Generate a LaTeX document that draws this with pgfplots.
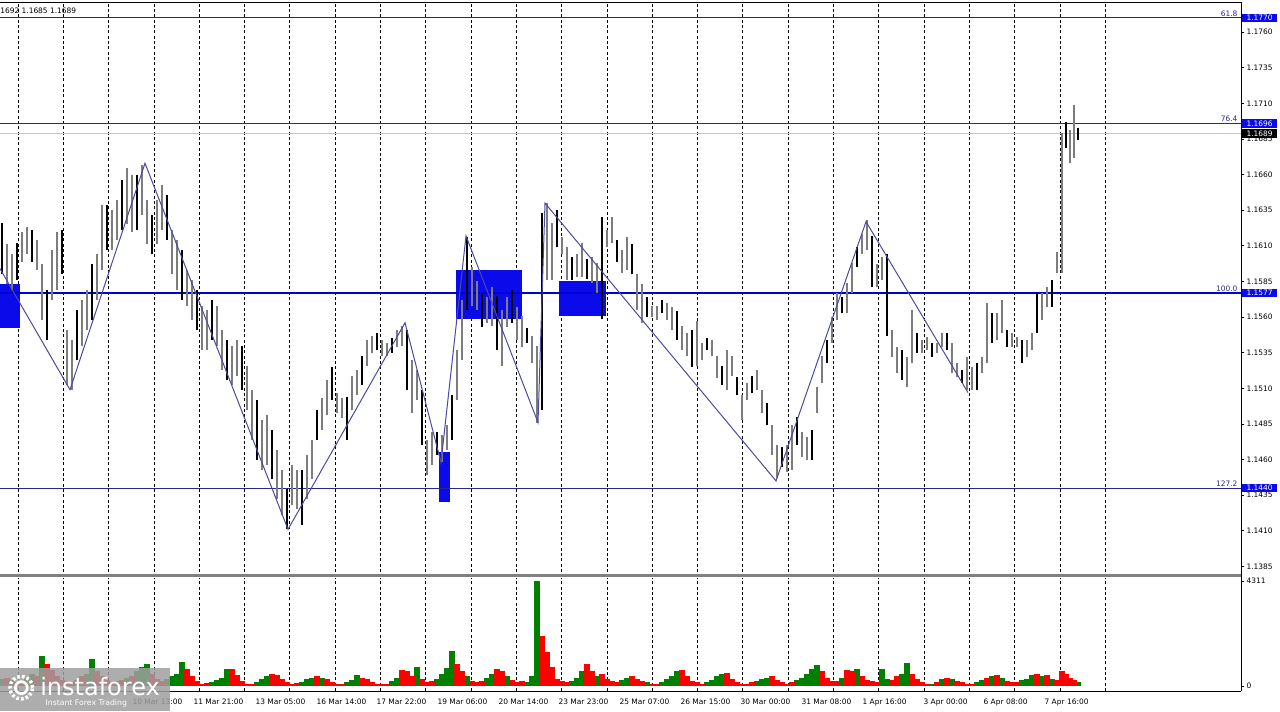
\documentclass[border=0pt]{standalone}
\usepackage{pgfplots}
\usepackage{pgfplotstable}
\pgfplotsset{compat=1.18}
\usepackage{fontspec}
\setmainfont{DejaVu Sans}

\definecolor{lvl}{RGB}{40,40,140}
\definecolor{lvlb}{RGB}{0,0,210}
\definecolor{boxb}{RGB}{10,10,235}
\definecolor{zz}{RGB}{75,75,160}
\definecolor{vg}{RGB}{0,128,0}
\definecolor{vr}{RGB}{255,0,0}
\definecolor{bargray}{RGB}{125,125,125}
\newcommand\lbl{\fontsize{5.6}{6.5}\selectfont}

% hourly bars (x = position along the time axis, low, high)
\pgfplotstableread{
x lo hi
2 1.1590 1.1626
7 1.1583 1.1611
12 1.1579 1.1604
17 1.1586 1.1612
22 1.1599 1.1620
27 1.1604 1.1623
32 1.1599 1.1621
37 1.1593 1.1614
42 1.1558 1.1597
47 1.1544 1.1579
52 1.1572 1.1607
57 1.1579 1.1620
62 1.1590 1.1621
67 1.1512 1.1551
72 1.1509 1.1544
77 1.1530 1.1565
82 1.1540 1.1572
87 1.1551 1.1579
92 1.1558 1.1597
97 1.1572 1.1604
102 1.1593 1.1639
107 1.1607 1.1639
112 1.1607 1.1635
117 1.1614 1.1642
122 1.1621 1.1656
127 1.1625 1.1665
132 1.1620 1.1660
137 1.1621 1.1660
142 1.1632 1.1667
147 1.1611 1.1642
152 1.1604 1.1632
157 1.1611 1.1642
162 1.1621 1.1653
167 1.1614 1.1646
172 1.1590 1.1621
177 1.1579 1.1614
182 1.1572 1.1607
187 1.1568 1.1593
192 1.1558 1.1586
197 1.1551 1.1579
202 1.1537 1.1568
207 1.1537 1.1565
212 1.1544 1.1572
217 1.1540 1.1568
222 1.1523 1.1551
227 1.1516 1.1544
232 1.1512 1.1540
237 1.1519 1.1544
242 1.1509 1.1540
247 1.1495 1.1526
252 1.1474 1.1509
257 1.1460 1.1502
262 1.1453 1.1488
267 1.1456 1.1491
272 1.1446 1.1481
277 1.1432 1.1467
282 1.1421 1.1453
287 1.1411 1.1439
292 1.1428 1.1456
297 1.1425 1.1453
302 1.1414 1.1453
307 1.1432 1.1463
312 1.1446 1.1474
317 1.1474 1.1495
322 1.1481 1.1503
327 1.1491 1.1516
332 1.1502 1.1525
337 1.1493 1.1507
342 1.1489 1.1503
347 1.1474 1.1504
352 1.1495 1.1519
357 1.1505 1.1523
362 1.1512 1.1533
367 1.1526 1.1544
372 1.1535 1.1547
377 1.1537 1.1549
382 1.1533 1.1544
387 1.1533 1.1542
392 1.1535 1.1545
397 1.1539 1.1551
402 1.1540 1.1554
407 1.1509 1.1551
412 1.1493 1.1530
417 1.1502 1.1523
422 1.1470 1.1509
427 1.1449 1.1474
432 1.1456 1.1479
437 1.1463 1.1479
442 1.1458 1.1477
447 1.1467 1.1484
452 1.1474 1.1505
457 1.1502 1.1537
462 1.1530 1.1572
467 1.1565 1.1616
472 1.1568 1.1595
477 1.1565 1.1585
482 1.1553 1.1577
487 1.1556 1.1574
492 1.1554 1.1581
497 1.1537 1.1575
502 1.1526 1.1565
507 1.1553 1.1574
512 1.1556 1.1579
517 1.1544 1.1567
522 1.1539 1.1561
527 1.1542 1.1552
532 1.1528 1.1547
537 1.1486 1.1540
542 1.1495 1.1633
547 1.1586 1.1640
552 1.1586 1.1626
557 1.1609 1.1635
562 1.1604 1.1616
567 1.1586 1.1609
572 1.1586 1.1602
577 1.1588 1.1604
582 1.1588 1.1612
587 1.1587 1.1601
592 1.1584 1.1602
597 1.1577 1.1598
602 1.1559 1.1630
607 1.1609 1.1621
612 1.1612 1.1630
617 1.1599 1.1614
622 1.1591 1.1607
627 1.1593 1.1616
632 1.1590 1.1611
637 1.1565 1.1590
642 1.1556 1.1583
647 1.1560 1.1574
652 1.1560 1.1568
657 1.1558 1.1568
662 1.1563 1.1572
667 1.1558 1.1570
672 1.1551 1.1567
677 1.1544 1.1564
682 1.1537 1.1554
687 1.1533 1.1549
692 1.1525 1.1551
697 1.1526 1.1557
702 1.1530 1.1542
707 1.1537 1.1545
712 1.1533 1.1544
717 1.1517 1.1533
722 1.1512 1.1526
727 1.1509 1.1537
732 1.1519 1.1533
737 1.1505 1.1518
742 1.1488 1.1505
747 1.1502 1.1514
752 1.1507 1.1519
757 1.1509 1.1523
762 1.1493 1.1509
767 1.1484 1.1500
772 1.1463 1.1484
777 1.1447 1.1470
782 1.1455 1.1469
787 1.1451 1.1470
792 1.1453 1.1484
797 1.1470 1.1490
802 1.1462 1.1479
807 1.1460 1.1476
812 1.1460 1.1481
817 1.1493 1.1511
822 1.1514 1.1533
827 1.1528 1.1544
832 1.1542 1.1560
837 1.1558 1.1577
842 1.1563 1.1574
847 1.1563 1.1584
852 1.1577 1.1598
857 1.1595 1.1609
862 1.1604 1.1618
867 1.1607 1.1628
872 1.1581 1.1617
877 1.1581 1.1597
882 1.1586 1.1602
887 1.1547 1.1604
892 1.1532 1.1551
897 1.1521 1.1539
902 1.1516 1.1537
907 1.1511 1.1532
912 1.1528 1.1565
917 1.1535 1.1549
922 1.1535 1.1544
927 1.1537 1.1546
932 1.1532 1.1542
937 1.1535 1.1542
942 1.1539 1.1549
947 1.1537 1.1549
952 1.1521 1.1542
957 1.1518 1.1528
962 1.1514 1.1523
967 1.1509 1.1532
972 1.1509 1.1525
977 1.1509 1.1528
982 1.1521 1.1532
987 1.1528 1.1570
992 1.1542 1.1563
997 1.1544 1.1563
1002 1.1549 1.1572
1007 1.1539 1.1551
1012 1.1539 1.1549
1017 1.1539 1.1546
1022 1.1528 1.1544
1027 1.1532 1.1544
1032 1.1537 1.1549
1037 1.1549 1.1577
1042 1.1558 1.1577
1047 1.1567 1.1581
1052 1.1567 1.1586
1057 1.1591 1.1606
1062 1.1591 1.1689
1066 1.1679 1.1697
1070 1.1668 1.1691
1074 1.1672 1.1709
1078 1.1684 1.1693
}\bars

\pgfplotstableread{
x v
2 300
12 250
27 350
32 500
42 1250
77 250
87 500
92 1100
117 200
127 350
137 600
142 800
147 900
167 300
172 400
177 500
182 1000
212 150
217 250
222 350
227 700
257 150
262 300
267 400
302 150
307 300
312 350
322 350
347 150
352 250
357 450
392 200
397 350
417 800
437 300
442 500
447 750
452 1450
467 400
487 350
492 500
507 400
527 150
532 400
537 4311
572 200
577 350
582 600
597 400
622 250
627 350
647 150
662 150
667 300
672 400
677 600
707 150
712 250
717 400
722 500
757 200
762 300
767 350
797 250
802 350
807 500
812 700
817 850
842 350
857 700
882 700
887 300
902 500
907 950
932 100
942 300
952 300
977 150
982 250
992 400
1002 350
1022 250
1027 300
1032 450
1042 400
1052 300
1078 150
}\volgreen

\pgfplotstableread{
x v
7 350
17 150
22 200
37 400
47 900
52 650
57 400
62 250
67 200
72 150
82 400
97 600
102 400
107 250
112 150
122 250
132 400
152 500
157 300
162 200
187 700
192 400
197 200
202 100
207 120
232 700
237 450
242 200
247 80
252 100
272 500
277 450
282 300
287 150
292 100
297 120
317 400
327 300
332 150
337 100
342 100
362 350
367 300
372 150
377 100
382 80
387 100
402 650
407 600
412 400
422 300
427 150
432 200
457 900
462 600
472 200
477 150
482 200
497 700
502 600
512 250
517 150
522 200
542 2050
547 1400
552 800
557 300
562 200
567 150
587 900
592 600
602 500
607 300
612 200
617 150
632 400
637 300
642 200
652 100
657 100
682 650
687 400
692 200
697 150
702 100
727 550
732 300
737 150
742 100
747 100
752 150
772 400
777 250
782 150
787 100
792 150
822 600
827 350
832 200
837 200
847 650
852 600
862 400
867 250
872 200
877 150
892 250
897 400
912 500
917 300
922 150
927 100
937 150
947 350
957 200
962 150
967 100
972 100
987 350
997 450
1007 200
1012 150
1017 150
1037 500
1047 450
1057 250
1062 600
1066 500
1070 350
1074 250
}\volred

\begin{document}
\begin{tikzpicture}
\fill[white] (0,0) rectangle (960pt,533.25pt);
\useasboundingbox (0,0) rectangle (960pt,533.25pt);

% ---------- price panel ----------
\begin{axis}[
  scale only axis, width=930.75pt, height=426.75pt,
  at={(0pt,104.25pt)}, anchor=south west,
  xmin=0, xmax=1241, ymin=1.138106, ymax=1.178049,
  axis line style={draw=none},
  clip mode=individual,
  xtick={18,63.3,108.6,153.9,199.2,244.5,289.8,335.1,380.4,425.7,471,516.3,561.6,606.9,652.2,697.5,742.8,788.1,833.4,878.7,924,969.3,1014.6,1059.9,1105.2},
  xticklabels={}, xmajorgrids,
  major x grid style={black, line width=0.6pt, dash pattern=on 2.2pt off 1.8pt},
  x tick style={draw=none},
  ytick={1.1385,1.1410,1.1435,1.1460,1.1485,1.1510,1.1535,1.1560,1.1585,1.1610,1.1635,1.1660,1.1685,1.1710,1.1735,1.1760},
  yticklabels={1.1385,1.1410,1.1435,1.1460,1.1485,1.1510,1.1535,1.1560,1.1585,1.1610,1.1635,1.1660,1.1685,1.1710,1.1735,1.1760},
  ytick pos=right, yticklabel pos=right,
  tick align=outside, major tick length=2.5pt,
  y tick style={black, line width=0.6pt},
  yticklabel style={font=\lbl, inner sep=1.5pt},
]
% blue zones
\addplot[fill=boxb, draw=none] coordinates {(0,1.1552) (20,1.1552) (20,1.1583) (0,1.1583)} -- cycle;
\addplot[fill=boxb, draw=none] coordinates {(456,1.1559) (522,1.1559) (522,1.1593) (456,1.1593)} -- cycle;
\addplot[fill=boxb, draw=none] coordinates {(559,1.1561) (606,1.1561) (606,1.1585) (559,1.1585)} -- cycle;
\addplot[fill=boxb, draw=none] coordinates {(439,1.1430) (450,1.1430) (450,1.1465) (439,1.1465)} -- cycle;
% levels
\addplot[lvl, line width=0.75pt] coordinates {(0,1.1770) (1241,1.1770)};
\addplot[lvl, line width=0.75pt] coordinates {(0,1.1696) (1241,1.1696)};
\addplot[gray!45, line width=0.75pt] coordinates {(0,1.1689) (1241,1.1689)};
\addplot[lvlb, line width=1.5pt] coordinates {(0,1.1577) (1241,1.1577)};
\addplot[lvl, line width=0.75pt] coordinates {(0,1.1440) (1241,1.1440)};
% bars
\addplot[draw=none, mark=none, error bars/.cd, y dir=plus, y explicit,
  error mark=none, error bar style={draw=bargray, line width=1.8pt}]
  table[x=x, y=lo, y error expr=\thisrow{hi}-\thisrow{lo}] {\bars};
\addplot[draw=none, mark=none, each nth point=3, error bars/.cd, y dir=plus, y explicit,
  error mark=none, error bar style={draw=black, line width=1.2pt}]
  table[x=x, y=lo, y error expr=\thisrow{hi}-\thisrow{lo}] {\bars};
% zigzag
\addplot[zz, line width=0.75pt] coordinates {
  (0,1.1594) (70,1.1509) (145,1.1668) (288,1.1411) (405,1.1556) (441,1.1458)
  (466,1.1617) (538,1.1486) (545,1.1640) (776,1.1445) (866,1.1627) (968,1.1507)};
% level captions and price boxes
\node[anchor=south east, text=lvl, font=\lbl, inner sep=1pt] at (axis cs:1239,1.1770) {61.8};
\node[anchor=south east, text=lvl, font=\lbl, inner sep=1pt] at (axis cs:1239,1.1696) {76.4};
\node[anchor=south east, text=lvl, font=\lbl, inner sep=1pt] at (axis cs:1239,1.1577) {100.0};
\node[anchor=south east, text=lvl, font=\lbl, inner sep=1pt] at (axis cs:1239,1.1440) {127.2};
\node[anchor=west, fill=boxb, text=white, font=\lbl, inner sep=1.2pt, minimum width=26pt] at (axis cs:1242,1.1770) {1.1770};
\node[anchor=west, fill=boxb, text=white, font=\lbl, inner sep=1.2pt, minimum width=26pt] at (axis cs:1242,1.1577) {1.1577};
\node[anchor=west, fill=boxb, text=white, font=\lbl, inner sep=1.2pt, minimum width=26pt] at (axis cs:1242,1.1440) {1.1440};
\node[anchor=west, fill=black, text=white, font=\lbl, inner sep=1.2pt, minimum width=26pt] at (axis cs:1242,1.1689) {1.1689};
\node[anchor=west, fill=boxb, text=white, font=\lbl, inner sep=1.2pt, minimum width=26pt] at (axis cs:1242,1.1696) {1.1696};
\end{axis}

% ---------- volume panel ----------
\begin{axis}[
  scale only axis, width=930.75pt, height=84.75pt,
  at={(0pt,15pt)}, anchor=south west,
  xmin=0, xmax=1241, ymin=-204, ymax=4433,
  axis line style={draw=none},
  clip mode=individual,
  xtick={131,192,254,315,375,436,497,557,618,679,739,800,861,922,982,1043},
  xticklabels={10 Mar 13:00,11 Mar 21:00,13 Mar 05:00,16 Mar 14:00,17 Mar 22:00,19 Mar 06:00,20 Mar 14:00,23 Mar 23:00,25 Mar 07:00,26 Mar 15:00,30 Mar 00:00,31 Mar 08:00,1 Apr 16:00,3 Apr 00:00,6 Apr 08:00,7 Apr 16:00},
  xticklabel style={font=\lbl, anchor=north west, inner sep=1pt, yshift=-2.5pt},
  x tick style={draw=none},
  extra x ticks={18,63.3,108.6,153.9,199.2,244.5,289.8,335.1,380.4,425.7,471,516.3,561.6,606.9,652.2,697.5,742.8,788.1,833.4,878.7,924,969.3,1014.6,1059.9,1105.2},
  extra x tick labels={},
  extra x tick style={grid=major, major grid style={black, line width=0.6pt, dash pattern=on 2.2pt off 1.8pt}},
  ytick={0,4311}, yticklabels={0,4311},
  ytick pos=right, yticklabel pos=right,
  tick align=outside, major tick length=2.5pt,
  y tick style={black, line width=0.6pt},
  yticklabel style={font=\lbl, inner sep=1.5pt},
]
\addplot[ycomb, vg, line width=3.8pt, mark=none] table[x=x, y=v] {\volgreen};
\addplot[ycomb, vr, line width=3.8pt, mark=none] table[x=x, y=v] {\volred};
\end{axis}

% frame pieces
\draw[gray, line width=2.25pt] (0,102pt) -- (930.75pt,102pt);
\draw[black, line width=0.75pt] (930.75pt,15pt) -- (930.75pt,531.5pt);
\draw[black, line width=0.75pt] (0,531pt) -- (930.75pt,531pt);
\draw[black, line width=0.75pt] (0,15pt) -- (930.75pt,15pt);

% header text
\node[anchor=west, font=\lbl, inner sep=0pt] at (0pt,525.5pt) {1692 1.1685 1.1689};

% logo
\fill[gray!75, opacity=0.85] (0,0) rectangle (127.5pt,32.25pt);
\draw[white, line width=2.6pt, dash pattern=on 2pt off 1.6pt] (16pt,17.5pt) circle (8.5pt);
\draw[white, line width=2pt] (16pt,17.5pt) circle (4.5pt);
\node[anchor=west, text=white, font=\fontsize{18}{18}\selectfont, inner sep=0pt] at (30pt,18.5pt) {instaforex};
\node[anchor=west, text=white, font=\fontsize{5.8}{6}\selectfont, inner sep=0pt] at (34pt,5.5pt) {Instant Forex Trading};
\end{tikzpicture}
\end{document}
